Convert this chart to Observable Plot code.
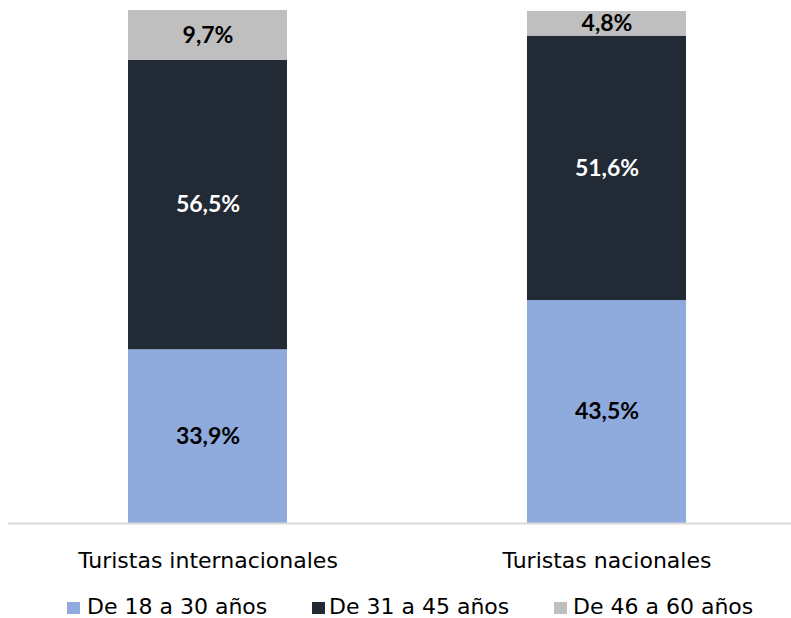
<!DOCTYPE html>
<html><head><meta charset="utf-8">
<script src="https://cdn.jsdelivr.net/npm/d3@7"></script>
<script src="https://cdn.jsdelivr.net/npm/@observablehq/plot@0.6"></script>
<style>
html,body{margin:0;padding:0;background:#fff;}
body{width:791px;height:618px;overflow:hidden;font-family:"DejaVu Sans",sans-serif;color:#000}
#chart{width:791px;height:575px;overflow:hidden}
#legend{position:relative;height:43px;width:791px}
.sw{position:absolute;width:13px;height:12px;top:27px}
.lt{position:absolute;top:21px;font-size:22px;line-height:22px;white-space:nowrap}
</style>
</head><body>
<div id="chart"></div>
<div id="legend"></div>
<script>
const categories = ["Turistas internacionales", "Turistas nacionales"];
const groups = ["De 18 a 30 años", "De 31 a 45 años", "De 46 a 60 años"];
const internacionales = [33.9, 56.5, 9.7];
const nacionales = [43.5, 51.6, 4.8];
const colors = ["#8faadc", "#222a35", "#bfbfbf"];

const seriesByCat = [internacionales, nacionales];
const data = [];
categories.forEach((c, i) => {
  groups.forEach((g, j) => data.push({cat: c, group: g, value: seriesByCat[i][j]}));
});
const fmt = v => v.toFixed(1).replace(".", ",") + "%";
const darkGroup = groups[1];

const plot = Plot.plot({
  width: 791,
  height: 575,
  marginTop: 10.5,
  marginBottom: 52,
  marginLeft: 8,
  marginRight: -16,
  x: {domain: categories, paddingInner: 0.6015, paddingOuter: 0.302},
  y: {domain: [0, 100], axis: null},
  color: {domain: groups, range: colors},
  style: {fontFamily: "'DejaVu Sans', sans-serif", color: "#000", background: "#fff"},
  marks: [
    Plot.barY(data, {x: "cat", y: "value", fill: "group", z: "group"}),
    Plot.ruleY([0], {stroke: "#d9d9d9", strokeWidth: 2}),
    Plot.axisX({tickSize: 0, tickPadding: 29, fontSize: 22, label: null, fill: "#000"}),
    Plot.text(data, Plot.stackY({
      x: "cat", y: "value", z: "group",
      text: d => d.group !== darkGroup ? fmt(d.value) : "",
      fill: "#000", fontWeight: "bold", fontSize: 23, fontFamily: "Lato, sans-serif"
    })),
    Plot.text(data, Plot.stackY({
      x: "cat", y: "value", z: "group",
      text: d => d.group === darkGroup ? fmt(d.value) : "",
      fill: "#fff", fontWeight: "bold", fontSize: 23, fontFamily: "Lato, sans-serif"
    }))
  ]
});
document.getElementById("chart").appendChild(plot);

const legendPos = [[67, 87], [312, 329], [554, 573]];
const legend = document.getElementById("legend");
groups.forEach((g, i) => {
  const sw = document.createElement("span");
  sw.className = "sw";
  sw.style.left = legendPos[i][0] + "px";
  sw.style.background = colors[i];
  legend.appendChild(sw);
  const t = document.createElement("span");
  t.className = "lt";
  t.style.left = legendPos[i][1] + "px";
  t.textContent = g;
  legend.appendChild(t);
});
</script>
</body></html>
